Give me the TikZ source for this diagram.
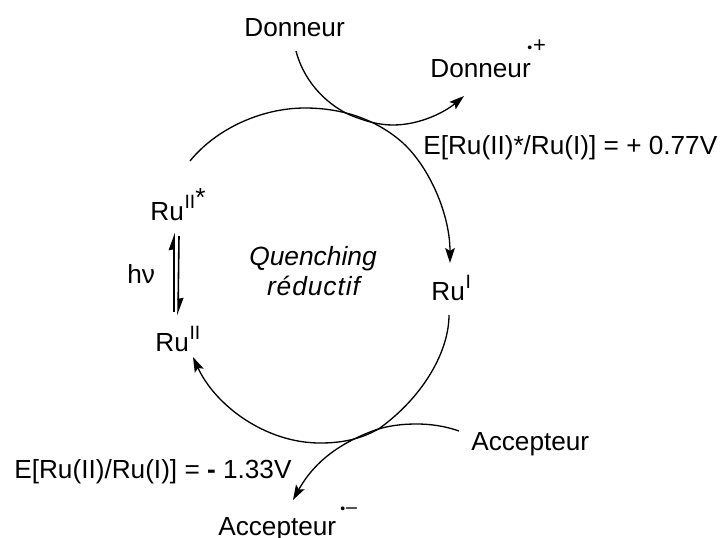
\documentclass[tikz,border=0pt]{standalone}
\usepackage{fontspec}
\setmainfont{Liberation Sans}
\usetikzlibrary{arrows.meta}
\newcommand{\rdot}[1]{\raisebox{#1}{\fontsize{8}{8}\selectfont •}}
\newcommand{\supru}[1]{\raisebox{6.5pt}{\fontsize{11}{13}\selectfont #1}}
\tikzset{
    lbl/.style={inner sep=0pt, font=\fontsize{14.9}{18}\selectfont},
    ital/.style={inner sep=0pt, font=\fontsize{15}{18}\selectfont\itshape},
    curve/.style={line width=0.75pt, -{Stealth[length=8.5pt,width=5.5pt,inset=1.6pt]}},
    hvarrow/.style={line width=0.9pt, -{Stealth[length=8.5pt,width=6pt,inset=0.5pt,harpoon]}}
}
\begin{document}
\begin{tikzpicture}[x=0.02cm,y=-0.02cm]
    \useasboundingbox (0,0) rectangle (721,538);
    % labels
    \node[lbl, anchor=base west] (don) at (244,36) {Donneur};
    \node[lbl, anchor=base west] (donp) at (430,77) {Donneur};
    \node[lbl, anchor=base west, font=\fontsize{12.5}{14}\selectfont] (donpc) at (527,52) {\rdot{-0.5pt}\kern0.5pt+};
    \node[lbl, anchor=base west] (eox) at (423,154) {E[Ru(II)*/Ru(I)] = + 0.77V};
    \node[lbl, anchor=base west] (rustar) at (150,220) {Ru\kern0.4pt\supru{II}\raisebox{7.5pt}{*}};
    \node[lbl, anchor=base west] (hv) at (127,283) {hν};
    \node[lbl, anchor=base west] (ru2) at (155,351) {Ru\kern0.4pt\supru{II}};
    \node[lbl, anchor=base west] (ru1) at (431,300) {Ru\kern0.4pt\supru{I}};
    \node[ital, anchor=base] (quench) at (313,265) {Quenching};
    \node[ital, anchor=base] (reduc) at (313.5,295) {\addfontfeature{LetterSpace=3.5}réductif};
    \node[lbl, anchor=base west] (acc) at (471,450) {Accepteur};
    \node[lbl, anchor=base west] (accm) at (218,535) {Accepteur};
    \node[lbl, anchor=base west, font=\fontsize{11.2}{14}\selectfont] (accmc) at (340,513) {\rdot{-0.5pt}\kern0.5pt–};
    \node[lbl, anchor=base west] (ered) at (14,478) {E[Ru(II)/Ru(I)] = \textbf{-} 1.33V};
    % end points
    \coordinate (a1) at (190,161);
    \coordinate (a2) at (450,263);
    \coordinate (b1) at (449,315);
    \coordinate (b2) at (193,357);
    \coordinate (d1) at (296,51);
    \coordinate (d2) at (464,96);
    \coordinate (c1) at (459,431);
    \coordinate (c2) at (293,500);
    \coordinate (h1) at (174,312);
    \coordinate (h2) at (174,233);
    \coordinate (h3) at (179,236);
    \coordinate (h4) at (178,315);
    % cycle
    \draw[curve] (a1) .. controls (215,130) and (260,108) .. (305,108) .. controls (340,108) and (375,118) .. (403,143) .. controls (430,168) and (450,215) .. (a2);
    \draw[curve] (b1) .. controls (449,350) and (425,395) .. (380,428) .. controls (360,440) and (340,443) .. (320,443) .. controls (265,443) and (215,405) .. (b2);
    \draw[curve] (d1) .. controls (305,85) and (330,106) .. (350,115) .. controls (365,121) and (378,125) .. (393,125) .. controls (420,125) and (445,112) .. (d2);
    \draw[curve] (c1) .. controls (445,426) and (430,424) .. (417,424) .. controls (400,424) and (385,426) .. (370,432) .. controls (350,440) and (318,455) .. (c2);
    \draw[hvarrow] (h1) -- (h2);
    \draw[hvarrow] (h3) -- (h4);
\end{tikzpicture}
\end{document}
